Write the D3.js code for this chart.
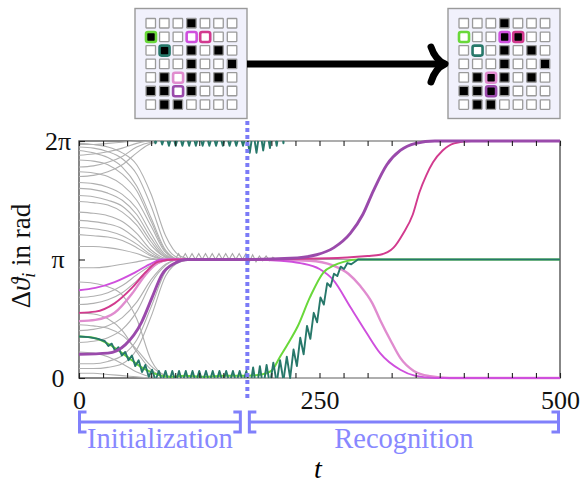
<!DOCTYPE html>
<html>
<head>
<meta charset="utf-8">
<script src="https://cdn.jsdelivr.net/npm/d3@7"></script>
<style>
  body { margin: 0; background: #fff; }
  svg { display: block; }
</style>
</head>
<body>
<svg id="chart" width="588" height="483"></svg>
<script>
// all phase values are in units of pi
const grayT = [0, 15, 30, 45, 60, 75, 90, 105, 120];

const grayToPi = [
  [1.98, 1.97, 1.95, 1.90, 1.80, 1.55, 1.20, 1.03, 1.0],
  [1.95, 1.94, 1.91, 1.85, 1.72, 1.45, 1.12, 1.01, 1.0],
  [1.92, 1.90, 1.86, 1.78, 1.62, 1.35, 1.08, 1.0, 1.0],
  [1.84, 1.83, 1.80, 1.72, 1.58, 1.32, 1.07, 1.0, 1.0],
  [1.74, 1.73, 1.70, 1.63, 1.50, 1.28, 1.06, 1.0, 1.0],
  [1.65, 1.64, 1.61, 1.55, 1.43, 1.22, 1.04, 1.0, 1.0],
  [1.60, 1.59, 1.56, 1.50, 1.38, 1.18, 1.03, 1.0, 1.0],
  [1.54, 1.53, 1.50, 1.45, 1.33, 1.15, 1.02, 1.0, 1.0],
  [1.49, 1.48, 1.46, 1.40, 1.29, 1.12, 1.02, 1.0, 1.0],
  [1.40, 1.39, 1.37, 1.32, 1.22, 1.08, 1.01, 1.0, 1.0],
  [1.33, 1.32, 1.30, 1.26, 1.17, 1.06, 1.0, 1.0, 1.0],
  [1.27, 1.26, 1.24, 1.20, 1.13, 1.04, 1.0, 1.0, 1.0],
  [1.21, 1.20, 1.19, 1.16, 1.10, 1.03, 1.0, 1.0, 1.0],
  [1.11, 1.11, 1.10, 1.08, 1.05, 1.01, 1.0, 1.0, 1.0],
  [0.93, 0.93, 0.94, 0.96, 0.98, 1.0, 1.0, 1.0, 1.0],
  [0.68, 0.69, 0.72, 0.78, 0.87, 0.95, 0.99, 1.0, 1.0],
  [0.62, 0.63, 0.66, 0.72, 0.82, 0.93, 0.99, 1.0, 1.0],
  [0.40, 0.41, 0.44, 0.51, 0.64, 0.83, 0.96, 1.0, 1.0],
  [0.30, 0.31, 0.34, 0.41, 0.56, 0.80, 0.95, 1.0, 1.0],
  [0.12, 0.12, 0.14, 0.19, 0.32, 0.60, 0.90, 0.99, 1.0],
  [0.08, 0.08, 0.09, 0.12, 0.24, 0.52, 0.86, 0.98, 1.0]
];

const grayToTwoPi = [
  [1.97, 1.97, 1.98, 1.99, 2.0, 2.0, 2.0, 2.0, 2.0],
  [1.88, 1.89, 1.91, 1.94, 1.98, 2.0, 2.0, 2.0, 2.0],
  [1.78, 1.79, 1.82, 1.87, 1.95, 1.99, 2.0, 2.0, 2.0],
  [1.70, 1.71, 1.74, 1.80, 1.90, 1.98, 2.0, 2.0, 2.0]
];

const grayToZero = [
  [0.81, 0.80, 0.77, 0.70, 0.50, 0.15, 0.02, 0.0, 0.0],
  [0.55, 0.54, 0.50, 0.40, 0.22, 0.07, 0.01, 0.0, 0.0],
  [0.45, 0.44, 0.42, 0.36, 0.24, 0.10, 0.02, 0.0, 0.0],
  [0.22, 0.21, 0.18, 0.12, 0.05, 0.01, 0.0, 0.0, 0.0],
  [0.04, 0.04, 0.03, 0.02, 0.01, 0.0, 0.0, 0.0, 0.0]
];

// small ripple of the gray bundle around pi
const grayRipple = [
  [100, 1.0], [103.5, 1.05], [107, 1.0], [110.5, 1.05], [114, 1.0], [117.5, 1.05],
  [121, 1.0], [124.5, 1.05], [128, 1.0], [131.5, 1.05], [135, 1.0], [138.5, 1.05],
  [142, 1.0], [145.5, 1.05], [149, 1.0], [152.5, 1.05], [156, 1.0], [159.5, 1.05],
  [163, 1.0], [166.5, 1.05], [170, 1.0], [173.5, 1.05], [177, 0.98], [180.5, 1.04],
  [184, 0.98], [187.5, 1.03], [191, 0.99], [194.5, 1.03], [198, 0.99], [201.5, 1.02],
  [205, 1.0], [500, 1.0]
];

const pink = [
  [0, 0.48], [17, 0.49], [37, 0.55], [55, 0.71], [69, 0.87], [82, 0.97], [95, 1.0],
  [175, 1.0], [240, 0.99], [264, 0.95], [280, 0.88], [292, 0.78], [305, 0.63],
  [313, 0.49], [325, 0.3], [334, 0.17], [348, 0.06], [365, 0.015], [385, 0.0], [500, 0.0]
];
const magenta = [
  [0, 0.74], [17, 0.76], [37, 0.81], [58, 0.89], [76, 0.97], [86, 1.0], [175, 1.0],
  [210, 0.99], [230, 0.97], [250, 0.92], [264, 0.83], [282, 0.6], [299, 0.38],
  [313, 0.21], [334, 0.07], [349, 0.02], [370, 0.0], [500, 0.0]
];
const crimson = [
  [0, 0.55], [17, 0.56], [37, 0.63], [55, 0.76], [69, 0.89], [82, 0.98], [100, 1.0],
  [175, 1.0], [260, 1.01], [300, 1.03], [313, 1.04], [327, 1.1], [337, 1.22],
  [347, 1.38], [354, 1.57], [361, 1.71], [368, 1.82], [378, 1.92], [390, 1.98], [408, 2.0], [500, 2.0]
];
const purple = [
  [0, 0.2], [30, 0.21], [48, 0.28], [65, 0.47], [76, 0.68], [86, 0.87], [100, 0.97],
  [113, 1.0], [175, 1.0], [220, 1.01], [247, 1.04], [265, 1.1], [282, 1.22],
  [295, 1.38], [306, 1.58], [320, 1.80], [334, 1.92], [350, 1.98], [370, 2.0], [500, 2.0]
];
const green = [
  [0, 0.35], [15, 0.34], [30, 0.29], [45, 0.21], [55, 0.15], [65, 0.09], [75, 0.05],
  [85, 0.02], [95, 0.01], [110, 0.02], [130, 0.01], [150, 0.02], [175, 0.02],
  [190, 0.03], [200, 0.06], [209, 0.18], [218, 0.3], [227, 0.43], [240, 0.68],
  [254, 0.89], [265, 0.95], [275, 0.98], [290, 1.0], [500, 1.0]
];
const teal = [
  [0, 0.35], [10, 0.345], [20, 0.33], [27, 0.31], [30.5, 0.27], [34, 0.29], [37.5, 0.23],
  [41, 0.26], [44.5, 0.19], [48, 0.22], [51.5, 0.15], [55, 0.19], [58.5, 0.10],
  [62, 0.15], [65.5, 0.05], [69, 0.11], [72.5, 0.01], [76, 0.07], [79.5, -0.02],
  [83, 0.06], [86.5, -0.03], [90, 0.06], [93.5, -0.04], [97, 0.06], [100.5, -0.04],
  [104, 0.06], [107.5, -0.04], [111, 0.06], [114.5, -0.04], [118, 0.06], [121.5, -0.04],
  [125, 0.06], [128.5, -0.04], [132, 0.06], [135.5, -0.04], [139, 0.06], [142.5, -0.04],
  [146, 0.06], [149.5, -0.04], [153, 0.06], [156.5, -0.04], [160, 0.06], [163.5, -0.04],
  [167, 0.06], [170.5, -0.04], [174, 0.06], [177.5, -0.10], [181, 0.09], [184.5, -0.10],
  [188, 0.10], [191.5, -0.08], [195, 0.11], [198.5, -0.06], [202, 0.13], [205.5, -0.04],
  [209, 0.15], [212.5, -0.02], [216, 0.18], [219.5, 0.0], [223, 0.24], [226.5, 0.10],
  [230, 0.34], [233.5, 0.20], [237, 0.44], [240.5, 0.33], [244, 0.55], [247.5, 0.47],
  [251, 0.68], [254.5, 0.62], [258, 0.80], [261.5, 0.77], [265, 0.88], [268.5, 0.86],
  [272, 0.94], [275.5, 0.92], [279, 0.97], [283, 0.96], [290, 1.0], [500, 1.0]
];

// 7x7 pattern icons, "1" = black cell
const gridBefore = ["0001000", "1000000", "0101010", "0001001", "0101010", "1101000", "0110000"];
const gridAfter  = ["0001000", "0001100", "0001010", "0001001", "0111010", "1111000", "0110000"];
const marked = [
  { r: 1, c: 0, color: "#69d83a" },
  { r: 1, c: 3, color: "#cf4fdd" },
  { r: 1, c: 4, color: "#d23a8e" },
  { r: 2, c: 1, color: "#27786a" },
  { r: 4, c: 2, color: "#e08ccf" },
  { r: 5, c: 2, color: "#9a4aab" }
];

const yTicks = [0, 1, 2];
const yTickLabels = ["0", "π", "2π"];
const xLabelTicks = [0, 250, 500];
const phaseSwitch = 175;

const svg = d3.select("#chart");
const serif = "Liberation Serif, DejaVu Serif, serif";

const x = d3.scaleLinear().domain([0, 500]).range([79, 560]);
const y = d3.scaleLinear().domain([0, 2]).range([378, 141]);

// frame
svg.append("rect")
  .attr("x", x(0)).attr("y", y(2))
  .attr("width", x(500) - x(0)).attr("height", y(0) - y(2))
  .attr("fill", "none").attr("stroke", "#555").attr("stroke-width", 1.4);

const smooth = d3.line().x(d => x(d[0])).y(d => y(d[1])).curve(d3.curveMonotoneX);
const sharp = d3.line().x(d => x(d[0])).y(d => y(d[1]));

// gray oscillators
const grayAll = grayToPi.concat(grayToTwoPi, grayToZero);
grayAll.forEach(vals => {
  const pts = grayT.map((t, i) => [t, vals[i]]);
  pts.push([500, vals[vals.length - 1]]);
  svg.append("path").attr("d", smooth(pts))
    .attr("fill", "none").attr("stroke", "#b0b0b0").attr("stroke-width", 1.1);
});
svg.append("path").attr("d", sharp(grayRipple))
  .attr("fill", "none").attr("stroke", "#a8a8a8").attr("stroke-width", 1.1);

// split a series where it wraps through 0 / 2pi
function wrapSegments(pts) {
  const segs = [[]];
  pts.forEach((p, i) => {
    if (i > 0) {
      const q = pts[i - 1];
      if ((q[1] >= 0) !== (p[1] >= 0)) {
        const tc = q[0] + (p[0] - q[0]) * (0 - q[1]) / (p[1] - q[1]);
        segs[segs.length - 1].push([tc, q[1] >= 0 ? 0 : 2]);
        segs.push([[tc, q[1] >= 0 ? 2 : 0]]);
      }
    }
    segs[segs.length - 1].push([p[0], p[1] < 0 ? p[1] + 2 : p[1]]);
  });
  return segs;
}

const colored = [
  { data: pink, color: "#e08ccf", w: 2.4, gen: smooth },
  { data: magenta, color: "#cf4fdd", w: 1.9, gen: smooth },
  { data: crimson, color: "#d23a8e", w: 1.9, gen: smooth },
  { data: green, color: "#69d83a", w: 2.0, gen: smooth },
  { data: teal, color: "#27786a", w: 1.9, gen: sharp },
  { data: purple, color: "#9a4aab", w: 2.9, gen: smooth }
];
colored.forEach(s => {
  wrapSegments(s.data).forEach(seg => {
    svg.append("path").attr("d", s.gen(seg))
      .attr("fill", "none").attr("stroke", s.color)
      .attr("stroke-width", s.w).attr("stroke-linejoin", "round");
  });
});

// axes (inward ticks)
const axBottom = svg.append("g").attr("transform", `translate(0,${y(0)})`)
  .call(d3.axisBottom(x).tickValues(d3.range(0, 501, 25))
    .tickSizeInner(-5).tickSizeOuter(0).tickPadding(13)
    .tickFormat(d => xLabelTicks.includes(d) ? d : ""));
const axTop = svg.append("g").attr("transform", `translate(0,${y(2)})`)
  .call(d3.axisTop(x).tickValues(d3.range(0, 501, 25))
    .tickSizeInner(-5).tickSizeOuter(0).tickFormat(""));
const axLeft = svg.append("g").attr("transform", `translate(${x(0)},0)`)
  .call(d3.axisLeft(y).tickValues(yTicks).tickSizeInner(-6).tickSizeOuter(0)
    .tickFormat(d => yTickLabels[d]));
[axBottom, axTop, axLeft].forEach(g => {
  g.select(".domain").remove();
  g.attr("font-family", null);
  g.selectAll(".tick line").attr("stroke", "#222").attr("stroke-width", 1.1);
  g.selectAll("text").style("font-family", serif).style("font-size", "26px").attr("fill", "#111");
});
axLeft.selectAll("text").attr("text-anchor", "middle").attr("x", -21);

// phase separator
svg.append("line")
  .attr("x1", x(phaseSwitch)).attr("x2", x(phaseSwitch))
  .attr("y1", 121).attr("y2", 398)
  .attr("stroke", "#7b7bf7").attr("stroke-width", 4).attr("stroke-dasharray", "4 3");

// brackets for the two phases
const bracketColor = "#8080fb";
function bracket(t0, t1, label, xShift) {
  const xa = x(t0) + xShift[0], xb = x(t1) + xShift[1], yb = 422;
  svg.append("path")
    .attr("d", `M${xa + 7},${yb - 10} H${xa} V${yb + 10} H${xa + 7} M${xa},${yb} H${xb} M${xb - 7},${yb - 10} H${xb} V${yb + 10} H${xb - 7}`)
    .attr("fill", "none").attr("stroke", bracketColor).attr("stroke-width", 3);
  svg.append("text").attr("x", (xa + xb) / 2).attr("y", 448)
    .attr("text-anchor", "middle").style("font-family", serif).style("font-size", "28.5px")
    .attr("fill", "#8888ff").text(label);
}
bracket(0, phaseSwitch, "Initialization", [0.5, -7]);
bracket(phaseSwitch, 500, "Recognition", [2, -1.5]);

// axis titles
svg.append("text").attr("x", 318).attr("y", 478).attr("text-anchor", "middle")
  .style("font-family", serif).style("font-size", "28px").attr("font-style", "italic").text("t");

const yl = svg.append("text").attr("transform", "translate(30,256) rotate(-90)")
  .attr("text-anchor", "middle").style("font-family", serif).style("font-size", "27px").attr("fill", "#111");
yl.append("tspan").text("Δ");
yl.append("tspan").attr("font-style", "italic").text("ϑ");
yl.append("tspan").attr("font-style", "italic").style("font-size", "18px").attr("dy", 5).text("i");
yl.append("tspan").attr("dy", -5).text(" in rad");

// pattern icons
function icon(x0, y0, pattern) {
  const g = svg.append("g").attr("transform", `translate(${x0},${y0})`);
  g.append("rect").attr("x", 0).attr("y", 0).attr("width", 112).attr("height", 110)
    .attr("fill", "#f1f1fc").attr("stroke", "#9a9a9a").attr("stroke-width", 1.4);
  const pitch = 13.55;
  pattern.forEach((row, r) => {
    row.split("").forEach((ch, c) => {
      const m = marked.find(k => k.r === r && k.c === c);
      g.append("rect")
        .attr("x", 11 + c * pitch).attr("y", 10 + r * pitch)
        .attr("width", m ? 10 : 9.5).attr("height", m ? 10 : 9.5)
        .attr("rx", m ? 2 : 0.5)
        .attr("fill", ch === "1" ? "#000" : "#fff")
        .attr("stroke", m ? m.color : "#9a9a9a")
        .attr("stroke-width", m ? 2.6 : 1.3);
    });
  });
}
icon(135, 8.5, gridBefore);
icon(448, 8.5, gridAfter);

// arrow between icons
svg.append("line").attr("x1", 247).attr("x2", 442).attr("y1", 64).attr("y2", 64)
  .attr("stroke", "#000").attr("stroke-width", 7);
svg.append("path").attr("d", "M431,47 C434,56 438,61 445,64 C438,67 434,72 431,82")
  .attr("fill", "none").attr("stroke", "#000").attr("stroke-width", 7)
  .attr("stroke-linecap", "round").attr("stroke-linejoin", "round");
</script>
</body>
</html>
